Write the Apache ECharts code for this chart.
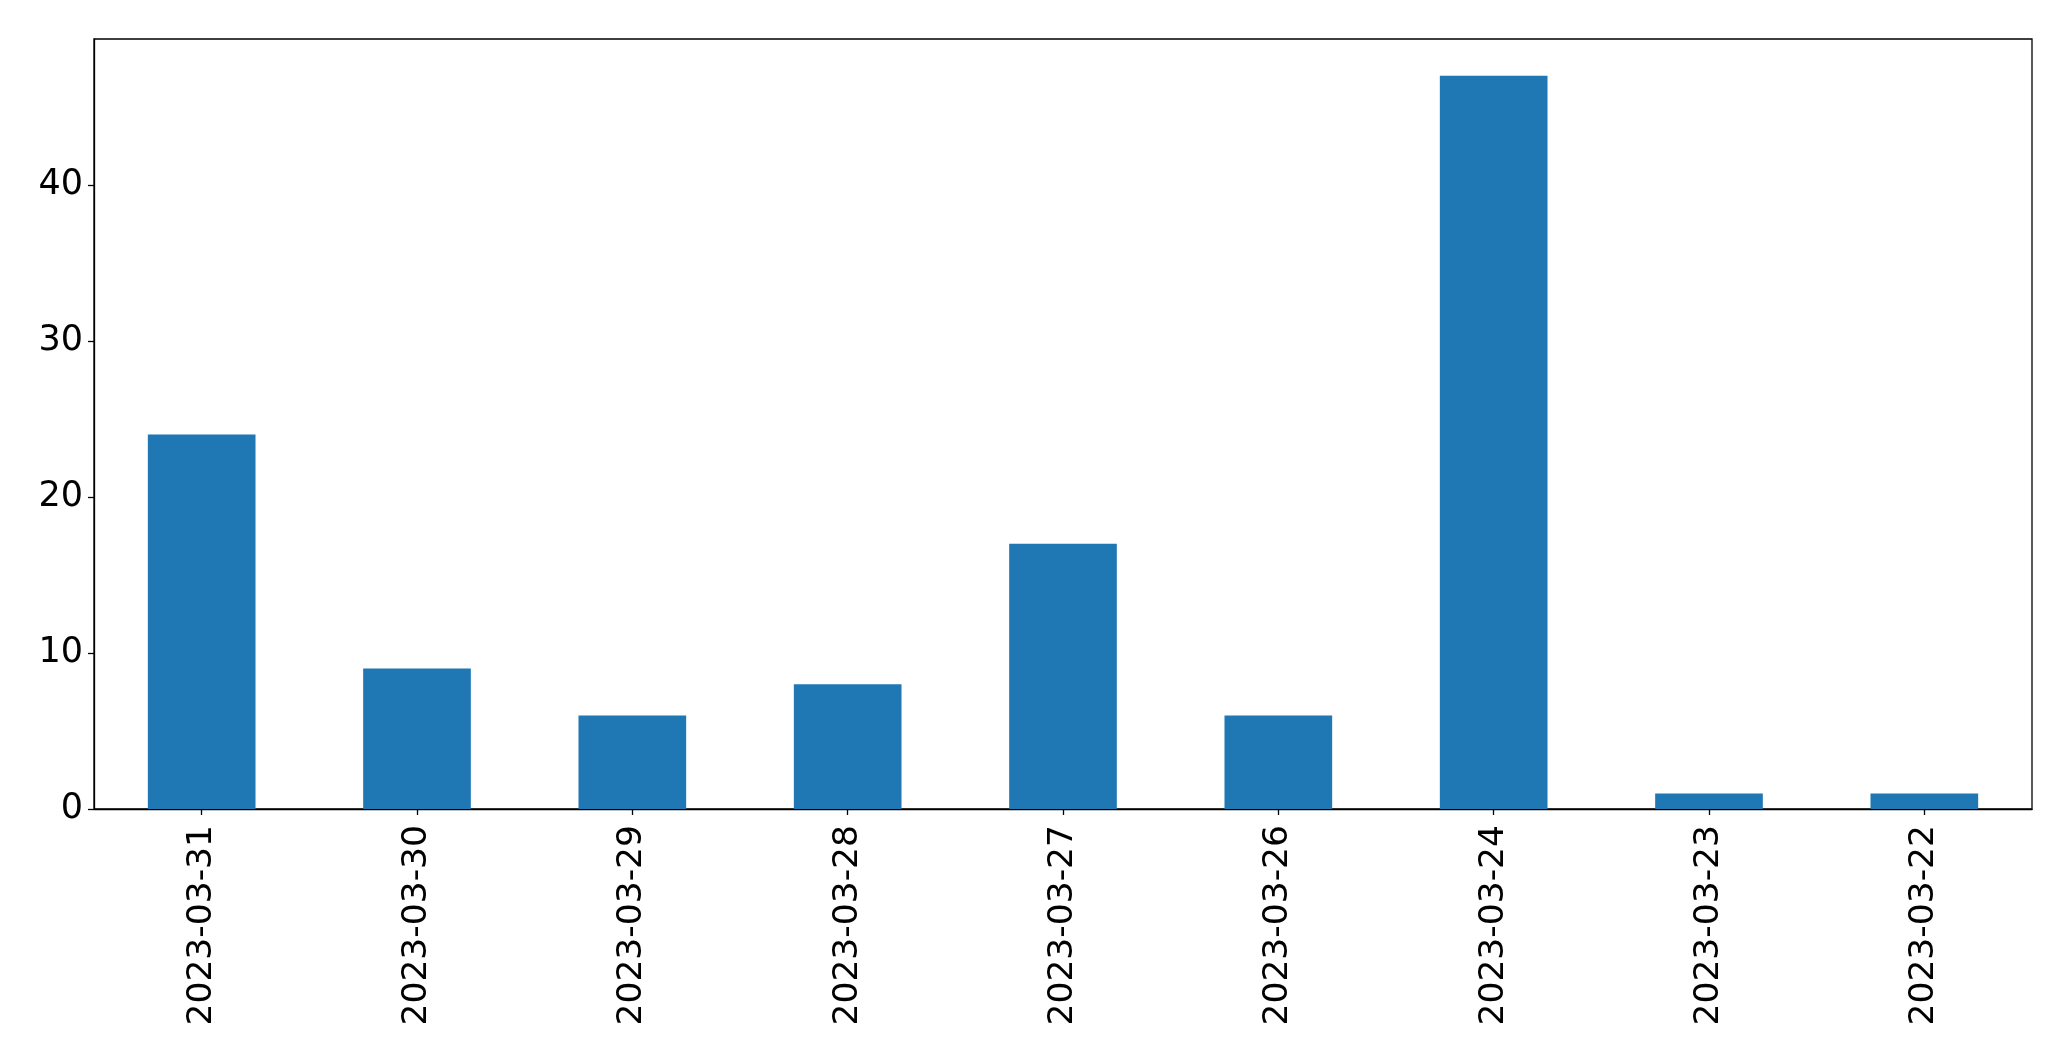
<!DOCTYPE html>
<html>
<head>
<meta charset="utf-8">
<script src="https://cdn.jsdelivr.net/npm/echarts@6/dist/echarts.min.js"></script>
<style>
html,body{margin:0;padding:0;background:#fff;}
#chart{width:2071px;height:1061px;}
</style>
</head>
<body>
<div id="chart"></div>
<script>
const categories = ["2023-03-31","2023-03-30","2023-03-29","2023-03-28","2023-03-27","2023-03-26","2023-03-24","2023-03-23","2023-03-22"];
const values = [24, 9, 6, 8, 17, 6, 47, 1, 1];
const yTicks = [0, 10, 20, 30, 40];

const chart = echarts.init(document.getElementById('chart'), null, {renderer: 'canvas'});
const font = '"DejaVu Sans", sans-serif';
chart.setOption({
  backgroundColor: '#ffffff',
  animation: false,
  grid: {left: 94, top: 39, right: 39, bottom: 252, show: true, borderColor: '#000', borderWidth: 1.3, backgroundColor: 'transparent'},
  xAxis: {
    type: 'category',
    data: categories,
    boundaryGap: true,
    axisLine: {show: true, lineStyle: {color: '#000', width: 1.3}},
    axisTick: {show: true, alignWithLabel: true, length: 6, lineStyle: {color: '#000', width: 1.3}},
    axisLabel: {rotate: 90, fontSize: 34.5, fontFamily: font, color: '#000', margin: 16, interval: 0},
    splitLine: {show: false}
  },
  yAxis: {
    type: 'value',
    min: 0,
    max: 49.35,
    interval: 10,
    axisLine: {show: true, lineStyle: {color: '#000', width: 1.3}},
    axisTick: {show: true, length: 6, lineStyle: {color: '#000', width: 1.3}, customValues: yTicks},
    axisLabel: {fontSize: 35, fontFamily: font, color: '#000', margin: 11, customValues: yTicks},
    splitLine: {show: false}
  },
  series: [{
    type: 'bar',
    data: values,
    barWidth: '50%',
    itemStyle: {color: '#1f77b4'}
  }]
});
</script>
</body>
</html>
